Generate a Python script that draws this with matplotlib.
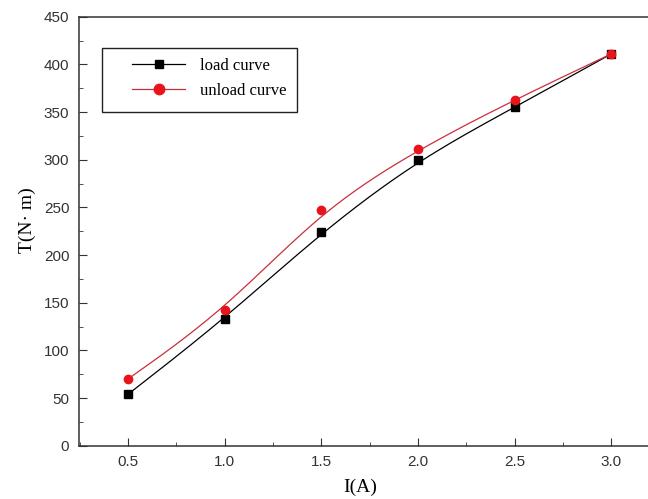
import numpy as np
import matplotlib.pyplot as plt
from matplotlib.ticker import MultipleLocator
from matplotlib.patches import Rectangle

current = [0.5, 1.0, 1.5, 2.0, 2.5, 3.0]
load_T = [54, 133, 224, 300, 355, 411]
unload_T = [70, 142, 247, 311, 363, 411]


def bspline(x, y, n=60):
    # uniform cubic B-spline with the points as control points (ends clamped)
    P = np.column_stack([x, y]).astype(float)
    P = np.vstack([P[0], P[0], P, P[-1], P[-1]])
    t = np.linspace(0, 1, n)
    b0 = (1 - t) ** 3 / 6
    b1 = (3 * t ** 3 - 6 * t ** 2 + 4) / 6
    b2 = (-3 * t ** 3 + 3 * t ** 2 + 3 * t + 1) / 6
    b3 = t ** 3 / 6
    seg = []
    for i in range(len(P) - 3):
        seg.append(np.outer(b0, P[i]) + np.outer(b1, P[i + 1])
                   + np.outer(b2, P[i + 2]) + np.outer(b3, P[i + 3]))
    c = np.vstack(seg)
    return c[:, 0], c[:, 1]


fig = plt.figure(figsize=(6.48, 4.99), dpi=100)
ax = fig.add_axes([0.1219, 0.1068, 0.8781, 0.8597])

line_red = '#c8303c'
dot_red = '#e8141c'

xs, ys = bspline(current, load_T)
ax.plot(xs, ys, color='black', lw=0.9)
ax.plot(current, load_T, 's', color='black', ms=5.5, ls='none')
xs, ys = bspline(current, unload_T)
ax.plot(xs, ys, color=line_red, lw=0.9)
ax.plot(current, unload_T, 'o', color=dot_red, ms=6, ls='none')

# legend: handles + separate frame box
h1, = ax.plot([], [], '-s', color='black', ms=5.5, lw=0.9)
h2, = ax.plot([], [], '-o', color=line_red, mfc=dot_red, mec=dot_red, ms=7.5, lw=0.9)
ax.legend([h1, h2], ['load curve', 'unload curve'], loc='upper left',
          bbox_to_anchor=(0.093, 0.903), frameon=False, borderpad=0,
          borderaxespad=0, prop={'family': 'Liberation Serif', 'size': 12},
          handlelength=3.2, handletextpad=0.9, labelspacing=0.5)
ax.add_patch(Rectangle((0.0404, 0.778), 0.3426, 0.149, transform=ax.transAxes,
                       fill=False, edgecolor='#222222', lw=1.0, zorder=5))

ax.set_xlim(0.246, 3.19)
ax.set_ylim(0, 450)
ax.set_xticks(current)
ax.set_xticklabels(['0.5', '1.0', '1.5', '2.0', '2.5', '3.0'])
ax.xaxis.set_minor_locator(MultipleLocator(0.25))
ax.yaxis.set_major_locator(MultipleLocator(50))
ax.yaxis.set_minor_locator(MultipleLocator(25))
ax.tick_params(which='both', direction='in', top=False, right=False,
               labelsize=11, colors='#333333', labelcolor='#333333')
ax.tick_params(which='major', length=5.5, pad=7)
ax.tick_params(which='minor', length=3)
for t in ax.get_xticklabels() + ax.get_yticklabels():
    t.set_family('Liberation Sans')
ax.spines['right'].set_visible(False)
for s in ['left', 'bottom', 'top']:
    ax.spines[s].set_linewidth(1.1)
    ax.spines[s].set_color('#333333')

ax.set_xlabel('I(A)', family='Liberation Serif', fontsize=14, va='center')
ax.xaxis.set_label_coords(0.494, -0.096)
ax.set_ylabel('T(N· m)', family='Liberation Serif', fontsize=14, va='center')
ax.yaxis.set_label_coords(-0.09, 0.526)

fig.savefig('out.png', dpi=100)
